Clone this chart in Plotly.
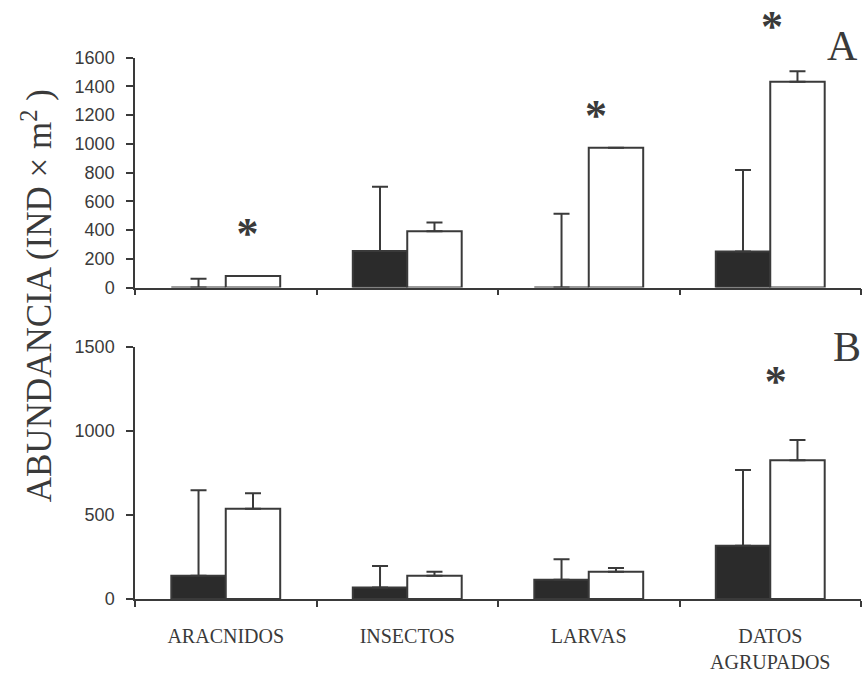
import plotly.graph_objects as go

categories = ["ARACNIDOS", "INSECTOS", "LARVAS", "DATOS<br>AGRUPADOS"]
cat_pos = list(range(len(categories)))
boundaries = [p - 0.5 for p in cat_pos] + [cat_pos[-1] + 0.5]

# Panel A
a_black = [0, 255, 0, 250]
a_black_err = [61, 446, 513, 567]
a_white = [81, 391, 972, 1431]
a_white_err = [0, 61, 0, 74]

# Panel B
b_black = [138, 69, 115, 317]
b_black_err = [508, 127, 122, 450]
b_white = [537, 138, 162, 825]
b_white_err = [92, 24, 23, 121]

a_ticks = [0, 200, 400, 600, 800, 1000, 1200, 1400, 1600]
b_ticks = [0, 500, 1000, 1500]
a_max = 1600
b_max = 1500

# significance asterisks (category index position, value)
a_star_x = [0.12, 2.04, 3.01]
a_star_y = [355, 1175, 1790]
b_star_x = [3.03]
b_star_y = [1275]

LINE = "#3a3a3a"
DARK = "#2b2b2b"
H = 675
W = 867

# panel geometry (pixels from top)
a_zero_px, a_top_px = 286, 49
b_zero_px, b_top_px = 607, 347

fig = go.Figure()

def add_pair(black, black_err, white, white_err, xa, ya):
    fig.add_trace(go.Bar(
        x=cat_pos, y=black, xaxis=xa, yaxis=ya,
        marker=dict(color=DARK, line=dict(color=LINE, width=2)),
        error_y=dict(type="data", symmetric=False, array=black_err,
                     arrayminus=[0] * len(black), color=LINE, thickness=2, width=8),
        showlegend=False, hovertext=categories))
    fig.add_trace(go.Bar(
        x=cat_pos, y=white, xaxis=xa, yaxis=ya,
        marker=dict(color="white", line=dict(color=LINE, width=2)),
        error_y=dict(type="data", symmetric=False, array=white_err,
                     arrayminus=[0] * len(white), color=LINE, thickness=2, width=8),
        showlegend=False, hovertext=categories))

add_pair(a_black, a_black_err, a_white, a_white_err, "x", "y")
add_pair(b_black, b_black_err, b_white, b_white_err, "x2", "y2")

star_font = dict(family="Liberation Serif", size=44, color=LINE, weight="bold")
# asterisks of panel A live on an invisible taller axis with the same scale
fig.add_trace(go.Scatter(x=a_star_x, y=a_star_y, xaxis="x", yaxis="y3", mode="text",
                         text=["*"] * len(a_star_x), textposition="middle center",
                         textfont=star_font, cliponaxis=False, showlegend=False,
                         hoverinfo="skip"))
fig.add_trace(go.Scatter(x=b_star_x, y=b_star_y, xaxis="x2", yaxis="y2", mode="text",
                         text=["*"] * len(b_star_x), textposition="middle center",
                         textfont=star_font, cliponaxis=False, showlegend=False,
                         hoverinfo="skip"))

ann = []
ann.append(dict(x=842 / W, y=1 - 37 / H, xref="paper", yref="paper", text="A",
                xanchor="center", yanchor="middle",
                showarrow=False, font=dict(family="Liberation Serif", size=42, color=LINE)))
ann.append(dict(x=847 / W, y=1 - 347 / H, xref="paper", yref="paper", text="B",
                xanchor="center", yanchor="middle",
                showarrow=False, font=dict(family="Liberation Serif", size=42, color=LINE)))
ann.append(dict(x=37 / W, y=1 - 295 / H, xref="paper", yref="paper",
                text="ABUNDANCIA (IND × m<sup>2</sup> )", textangle=-90,
                xanchor="center", yanchor="middle",
                showarrow=False, font=dict(family="Liberation Serif", size=35, color=LINE)))

xdom = [135 / W, 861 / W]
common_x = dict(type="linear", domain=xdom, range=[-0.5, 3.5], showline=True,
                linecolor=LINE, linewidth=1.5, ticks="", tickvals=cat_pos,
                ticktext=categories,
                minor=dict(tickmode="array", tickvals=boundaries, ticks="outside",
                           ticklen=6, tickcolor=LINE, tickwidth=1.5, showgrid=False),
                showgrid=False, zeroline=False, fixedrange=True)
common_y = dict(showline=True, linecolor=LINE, linewidth=1.5, ticks="outside",
                ticklen=7, tickcolor=LINE, tickwidth=1.5, showgrid=False,
                zeroline=False, ticklabelstandoff=8,
                tickfont=dict(family="Liberation Sans", size=18, color=LINE))

a_scale = a_max / (a_zero_px - a_top_px)  # units per pixel
y3_top = a_zero_px * a_scale

fig.update_layout(
    width=W, height=H,
    margin=dict(l=0, r=0, t=0, b=0),
    paper_bgcolor="white", plot_bgcolor="rgba(0,0,0,0)",
    barmode="group", bargap=0.4, bargroupgap=0,
    xaxis=dict(**common_x, anchor="y", showticklabels=False),
    xaxis2=dict(**common_x, anchor="y2", ticklabelstandoff=18,
                tickfont=dict(family="Liberation Serif", size=20, color=LINE)),
    yaxis=dict(**common_y, domain=[1 - a_zero_px / H, 1 - a_top_px / H],
               range=[0, a_max], tickvals=a_ticks, anchor="x"),
    yaxis2=dict(**common_y, domain=[1 - b_zero_px / H, 1 - b_top_px / H],
                range=[0, b_max], tickvals=b_ticks, anchor="x2"),
    yaxis3=dict(domain=[1 - a_zero_px / H, 1], range=[0, y3_top], visible=False,
                anchor="x", fixedrange=True),
    annotations=ann,
)

fig.write_html("out.html")
